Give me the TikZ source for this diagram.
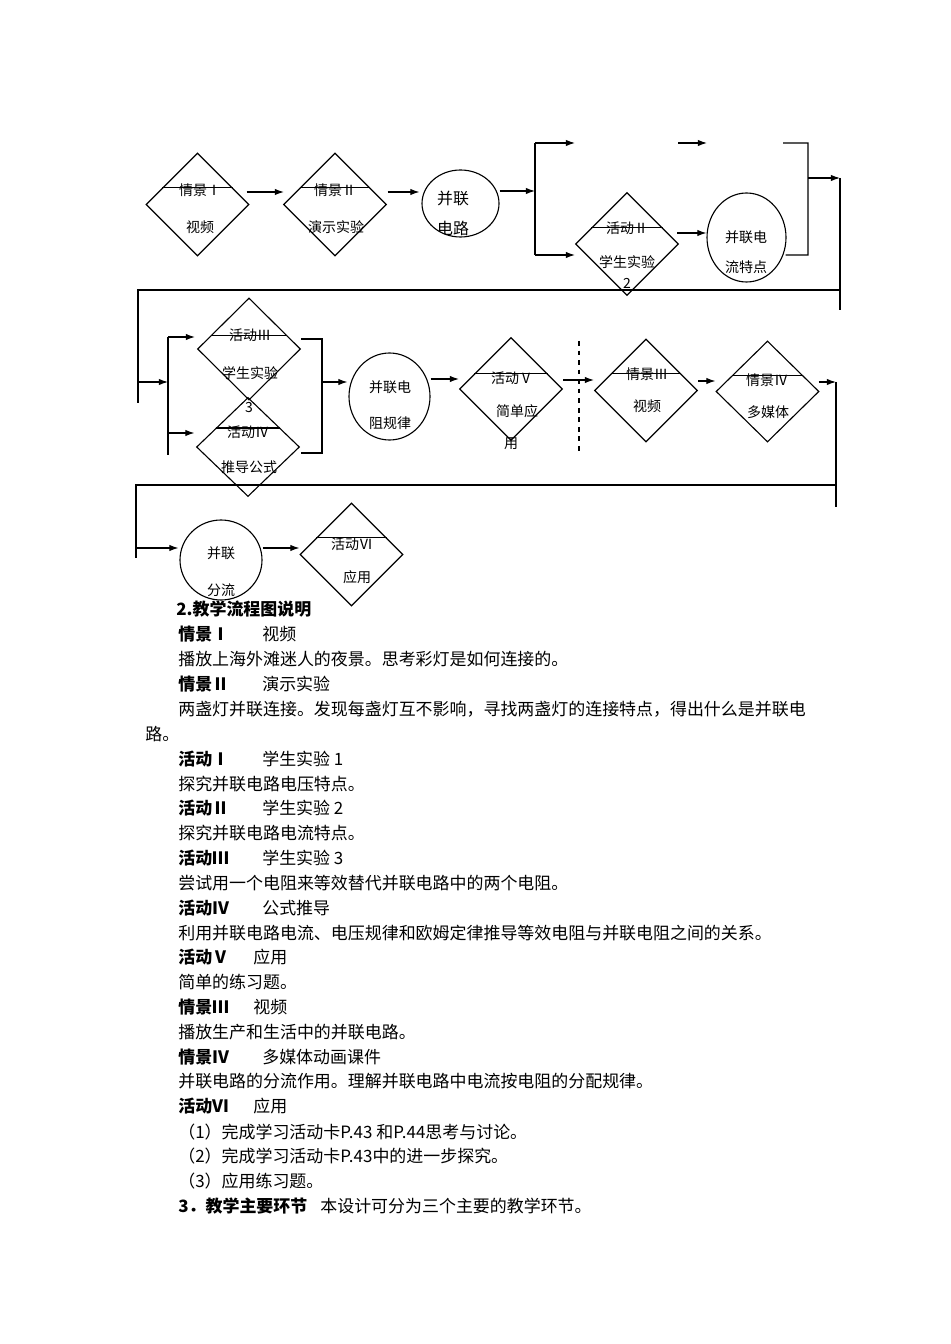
\documentclass[tikz,border=0pt]{standalone}
\usepackage{fontspec}
\setmainfont{Noto Sans CJK SC}
\usetikzlibrary{arrows.meta,positioning,shapes.geometric,calc}
\newcommand{\pxu}{0.0221cm}
\newlength{\colA}\setlength{\colA}{1.856cm}
\newlength{\colB}\setlength{\colB}{1.658cm}
\newlength{\colC}\setlength{\colC}{3.138cm}
\tikzset{
    stagebox/.style={diamond,draw,line width=0.7pt,inner sep=0pt,minimum width=103*\pxu,minimum height=103*\pxu},
    topicbox/.style={ellipse,draw,line width=0.7pt,inner sep=0pt},
    tagtext/.style={inner sep=0pt,font=\fontsize{8.8pt}{10pt}\selectfont},
    bigtag/.style={inner sep=0pt,font=\fontsize{10pt}{12pt}\selectfont},
    notetext/.style={inner sep=0pt,anchor=west,font=\fontsize{10.66pt}{12pt}\selectfont},
    flowline/.style={-{Latex[length=2mm,width=1.4mm]},line width=0.7pt},
    barline/.style={line width=0.7pt},
    cutline/.style={line width=0.7pt,dashed}
}
\begin{document}
\begin{tikzpicture}[x=\pxu,y=-\pxu]
\useasboundingbox (0,0) rectangle (950,1344);
% first row
\node[stagebox] (scene1) at (197.5,204.5) {};
\node[stagebox] (scene2) at (335,204.5) {};
\node[topicbox,minimum width=77*\pxu,minimum height=67*\pxu] (circuit) at (460.5,203.5) {};
\node[stagebox] (act2) at (627,244) {};
\node[topicbox,minimum width=79*\pxu,minimum height=89*\pxu] (current) at (746.5,237.5) {};
% second row
\node[stagebox,minimum height=102*\pxu] (act3) at (249,349) {};
\node[stagebox,minimum height=99*\pxu] (act4) at (248,447) {};
\node[topicbox,minimum width=81*\pxu,minimum height=87*\pxu] (resist) at (389.5,396.5) {};
\node[stagebox] (act5) at (511,389) {};
\node[stagebox] (scene3) at (646,390.5) {};
\node[stagebox,minimum height=101*\pxu] (scene4) at (767.5,391.5) {};
% third row
\node[topicbox,minimum width=82*\pxu,minimum height=80*\pxu] (shunt) at (221,560) {};
\node[stagebox] (act6) at (351.5,554.5) {};
% title lines
\draw[barline] ($(scene1.west)!0.32!(scene1.north)$) -- ($(scene1.east)!0.32!(scene1.north)$);
\draw[barline] ($(scene2.west)!0.32!(scene2.north)$) -- ($(scene2.east)!0.32!(scene2.north)$);
\draw[barline] ($(act2.west)!0.31!(act2.north)$) -- ($(act2.east)!0.31!(act2.north)$);
\draw[barline] ($(act3.west)!0.27!(act3.north)$) -- ($(act3.east)!0.27!(act3.north)$);
\draw[barline] ($(act4.west)!0.38!(act4.north)$) -- ($(act4.east)!0.38!(act4.north)$);
\draw[barline] ($(act5.west)!0.29!(act5.north)$) -- ($(act5.east)!0.29!(act5.north)$);
\draw[barline] ($(scene3.west)!0.32!(scene3.north)$) -- ($(scene3.east)!0.32!(scene3.north)$);
\draw[barline] ($(scene4.west)!0.31!(scene4.north)$) -- ($(scene4.east)!0.31!(scene4.north)$);
\draw[barline] ($(act6.west)!0.32!(act6.north)$) -- ($(act6.east)!0.32!(act6.north)$);
% texts in the chart
\node[tagtext] (scene1a) at (200,190) {情景Ⅰ};
\node[tagtext] (scene1b) at (200,227) {视频};
\node[tagtext] (scene2a) at (335,190) {情景Ⅱ};
\node[tagtext] (scene2b) at (336,227) {演示实验};
\node[bigtag] (circuita) at (453,198) {并联};
\node[bigtag] (circuitb) at (453,228) {电路};
\node[tagtext] (act2a) at (627,228) {活动Ⅱ};
\node[tagtext] (act2b) at (627,262) {学生实验};
\node[tagtext] (act2c) at (627,283) {2};
\node[tagtext] (currenta) at (746,237) {并联电};
\node[tagtext] (currentb) at (746,267) {流特点};
\node[tagtext] (act3a) at (250,335) {活动Ⅲ};
\node[tagtext] (act3b) at (250,373) {学生实验};
\node[tagtext] (act3c) at (249,408) {3};
\node[tagtext] (act4a) at (248,432) {活动Ⅳ};
\node[tagtext] (act4b) at (249,467) {推导公式};
\node[tagtext] (resista) at (390,387) {并联电};
\node[tagtext] (resistb) at (390,423) {阻规律};
\node[tagtext] (act5a) at (512,378) {活动Ⅴ};
\node[tagtext] (act5b) at (517,411) {简单应};
\node[tagtext] (act5c) at (511,444) {用};
\node[tagtext] (scene3a) at (647,374) {情景Ⅲ};
\node[tagtext] (scene3b) at (647,406) {视频};
\node[tagtext] (scene4a) at (767,380) {情景Ⅳ};
\node[tagtext] (scene4b) at (768,412) {多媒体};
\node[tagtext] (shunta) at (221,553) {并联};
\node[tagtext] (shuntb) at (221,590) {分流};
\node[tagtext] (act6a) at (352,544) {活动Ⅵ};
\node[tagtext] (act6b) at (357,577) {应用};
% junctions
\coordinate (fork1) at (535,191);
\coordinate (fork1top) at (535,143);
\coordinate (fork1bot) at (535,255);
\coordinate (gap1) at (575,143);
\coordinate (gap2) at (678,143);
\coordinate (gap3) at (707,143);
\coordinate (gap4) at (783,143);
\coordinate (join1top) at (808,143);
\coordinate (join1bot) at (808,255);
\coordinate (join1) at (808,178);
\coordinate (turn1) at (840,178);
\coordinate (turn1mid) at (840,290);
\coordinate (turn1end) at (840,310);
\coordinate (back1) at (138,290);
\coordinate (back1mid) at (138,382);
\coordinate (back1end) at (138,403);
\coordinate (fork2) at (168,382);
\coordinate (fork2top) at (168,337);
\coordinate (fork2low) at (168,433);
\coordinate (fork2bot) at (168,455);
\coordinate (join2top) at (322,339);
\coordinate (join2) at (322,382);
\coordinate (join2bot) at (322,453);
\coordinate (cuttop) at (579,341);
\coordinate (cutbot) at (579,455);
\coordinate (turn2) at (836,382);
\coordinate (turn2mid) at (836,485);
\coordinate (turn2end) at (836,507);
\coordinate (back2) at (136,485);
\coordinate (back2mid) at (136,548);
\coordinate (back2end) at (136,558);
% connectors
\draw[flowline] ($(scene1.east)+(-3,-12.5)$) -- ($(scene2.west)+(1,-12.5)$);
\draw[flowline] ($(scene2.east)+(0.5,-12.5)$) -- ($(circuit.west)+(-2,-11.5)$);
\draw[flowline] ($(circuit.east)+(0,-12.5)$) -- (fork1);
\draw[barline] (fork1top) -- (fork1bot);
\draw[flowline] (fork1top) -- (gap1);
\draw[flowline] (fork1bot) -- ($(act2.west)+(0,11)$);
\draw[flowline] (gap2) -- (gap3);
\draw[flowline] ($(act2.east)+(-2,-11)$) -- ($(current.west)+(0,-4.5)$);
\draw[barline] (gap4) -- (join1top) -- (join1bot) -- ($(current.east)+(-1,17.5)$);
\draw[flowline] (join1) -- (turn1);
\draw[barline] (turn1) -- (turn1end);
\draw[barline] (turn1mid) -- (back1) -- (back1end);
\draw[flowline] (back1mid) -- (fork2);
\draw[barline] (fork2top) -- (fork2bot);
\draw[flowline] (fork2top) -- ($(act3.west)+(-2,-12)$);
\draw[flowline] (fork2low) -- ($(act4.west)+(-1.5,-14)$);
\draw[barline] ($(act3.east)+(0,-10)$) -- (join2top) -- (join2bot) -- ($(act4.east)+(0.5,6)$);
\draw[flowline] (join2) -- ($(resist.west)+(-1,-14.5)$);
\draw[flowline] ($(resist.east)+(0,-17.5)$) -- ($(act5.west)+(0,-10)$);
\draw[flowline] ($(act5.east)+(0,-9)$) -- ($(scene3.west)+(0,-10.5)$);
\draw[cutline] (cuttop) -- (cutbot);
\draw[flowline] ($(scene3.east)+(0,-9.5)$) -- ($(scene4.west)+(0,-10.5)$);
\draw[flowline] ($(scene4.east)+(-1,-9.5)$) -- (turn2);
\draw[barline] (turn2) -- (turn2end);
\draw[barline] (turn2mid) -- (back2) -- (back2end);
\draw[flowline] (back2mid) -- ($(shunt.west)+(-1,-12)$);
\draw[flowline] ($(shunt.east)+(0,-12)$) -- ($(act6.west)+(0,-6.5)$);
% notes below the chart
\node[notetext] (note0) at (176,609) {\bfseries 2.教学流程图说明};
\node[notetext] (note1) at (178,634) {\makebox[\colA][l]{\bfseries 情景Ⅰ}视频};
\node[notetext] (note2) at (178,659) {播放上海外滩迷人的夜景。思考彩灯是如何连接的。};
\node[notetext] (note3) at (178,684) {\makebox[\colA][l]{\bfseries 情景Ⅱ}演示实验};
\node[notetext] (note4) at (178,709) {两盏灯并联连接。发现每盏灯互不影响，寻找两盏灯的连接特点，得出什么是并联电};
\node[notetext] (note5) at (145,734) {路。};
\node[notetext] (note6) at (178,759) {\makebox[\colA][l]{\bfseries 活动Ⅰ}学生实验 1};
\node[notetext] (note7) at (178,784) {探究并联电路电压特点。};
\node[notetext] (note8) at (178,808) {\makebox[\colA][l]{\bfseries 活动Ⅱ}学生实验 2};
\node[notetext] (note9) at (178,833) {探究并联电路电流特点。};
\node[notetext] (note10) at (178,858) {\makebox[\colA][l]{\bfseries 活动Ⅲ}学生实验 3};
\node[notetext] (note11) at (178,883) {尝试用一个电阻来等效替代并联电路中的两个电阻。};
\node[notetext] (note12) at (178,908) {\makebox[\colA][l]{\bfseries 活动Ⅳ}公式推导};
\node[notetext] (note13) at (178,933) {利用并联电路电流、电压规律和欧姆定律推导等效电阻与并联电阻之间的关系。};
\node[notetext] (note14) at (178,957) {\makebox[\colB][l]{\bfseries 活动Ⅴ}应用};
\node[notetext] (note15) at (178,982) {简单的练习题。};
\node[notetext] (note16) at (178,1007) {\makebox[\colB][l]{\bfseries 情景Ⅲ}视频};
\node[notetext] (note17) at (178,1032) {播放生产和生活中的并联电路。};
\node[notetext] (note18) at (178,1057) {\makebox[\colA][l]{\bfseries 情景Ⅳ}多媒体动画课件};
\node[notetext] (note19) at (178,1081) {并联电路的分流作用。理解并联电路中电流按电阻的分配规律。};
\node[notetext] (note20) at (178,1106) {\makebox[\colB][l]{\bfseries 活动Ⅵ}应用};
\node[notetext] (note21) at (178,1132) {（1）完成学习活动卡P.43 和P.44思考与讨论。};
\node[notetext] (note22) at (178,1156) {（2）完成学习活动卡P.43中的进一步探究。};
\node[notetext] (note23) at (178,1181) {（3）应用练习题。};
\node[notetext] (note24) at (178,1206) {\makebox[\colC][l]{\bfseries 3．教学主要环节}本设计可分为三个主要的教学环节。};
\end{tikzpicture}
\end{document}
